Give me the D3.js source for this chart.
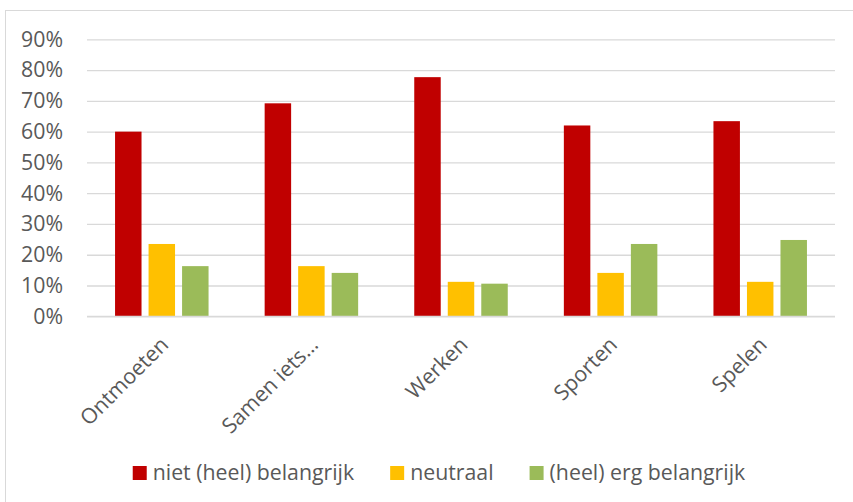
<!DOCTYPE html>
<html>
<head>
<meta charset="utf-8">
<script src="https://cdn.jsdelivr.net/npm/d3@7"></script>
<style>
  body { margin: 0; background: #fff; }
  text { font-family: "Open Sans", sans-serif; fill: #595959; }
</style>
</head>
<body>
<div id="chart"></div>
<script>

const categories = ['Ontmoeten', 'Samen iets\u2026', 'Werken', 'Sporten', 'Spelen']
const seriesNames = ['niet (heel) belangrijk', 'neutraal', '(heel) erg belangrijk']
const seriesColors = ['#C00000', '#FFC000', '#9BBB59']
const notImportant = [0.60, 0.692, 0.777, 0.62, 0.634]
const neutral = [0.235, 0.163, 0.112, 0.141, 0.112]
const important = [0.163, 0.141, 0.106, 0.235, 0.248]
const yTicks = [0, 0.1, 0.2, 0.3, 0.4, 0.5, 0.6, 0.7, 0.8, 0.9]

const width = 853
const height = 502
const plotLeft = 87, plotRight = 835, plotTop = 39.3, plotBottom = 316.3
const fontSize = 21.3

const values = [notImportant, neutral, important]

const svg = d3.select('#chart')
    .append('svg')
    .attr('width', width)
    .attr('height', height)

// frame (cut off at right and bottom like the original)
svg.append('rect')
    .attr('x', 5.5).attr('y', 10.5)
    .attr('width', width + 20).attr('height', height + 20)
    .attr('fill', 'none')
    .attr('stroke', '#d9d9d9')

const xScale = d3.scaleBand()
    .domain(categories)
    .range([plotLeft, plotRight])

const groupWidth = 93.5
const xInner = d3.scaleBand()
    .domain(d3.range(seriesNames.length))
    .range([0, groupWidth])
    .paddingInner(0.21)

const yScale = d3.scaleLinear()
    .domain([0, 0.9])
    .range([plotBottom, plotTop])

// gridlines + y labels
const yAxis = d3.axisLeft(yScale)
    .tickValues(yTicks)
    .tickFormat(d3.format('.0%'))
    .tickSize(-(plotRight - plotLeft))
    .tickPadding(24)

const gy = svg.append('g')
    .attr('transform', 'translate(' + plotLeft + ',0)')
    .call(yAxis)
gy.select('.domain').remove()
gy.selectAll('.tick line').attr('stroke', '#d9d9d9').attr('stroke-width', 1.3)
gy.selectAll('.tick text')
    .attr('font-size', fontSize)
    .attr('fill', '#595959')
    .style('font-family', '"Open Sans", sans-serif')

// bars
categories.forEach((cat, i) => {
    const g = svg.append('g')
        .attr('transform', 'translate(' + (xScale(cat) + (xScale.bandwidth() - groupWidth) / 2) + ',0)')
    g.selectAll('rect')
        .data(values.map(v => v[i]))
        .enter()
        .append('rect')
        .attr('x', (d, j) => xInner(j))
        .attr('y', d => yScale(d))
        .attr('width', xInner.bandwidth())
        .attr('height', d => plotBottom - yScale(d))
        .attr('fill', (d, j) => seriesColors[j])
})

// axis line at 0%
svg.append('line')
    .attr('x1', plotLeft).attr('x2', plotRight)
    .attr('y1', yScale(0)).attr('y2', yScale(0))
    .attr('stroke', '#d9d9d9').attr('stroke-width', 1.3)

// rotated category labels
svg.selectAll('.xlabel')
    .data(categories)
    .enter()
    .append('text')
    .attr('class', 'xlabel')
    .attr('transform', d => 'translate(' + (xScale(d) + xScale.bandwidth() / 2 + 8) + ',346) rotate(-45)')
    .attr('text-anchor', 'end')
    .attr('font-size', fontSize)
    .text(d => d)

// legend
const legend = svg.append('g')
const items = legend.selectAll('g')
    .data(seriesNames)
    .enter()
    .append('g')
items.append('rect')
    .attr('width', 14).attr('height', 14)
    .attr('y', 466)
    .attr('fill', (d, i) => seriesColors[i])
items.append('text')
    .attr('x', 20)
    .attr('y', 480)
    .attr('font-size', fontSize)
    .text(d => d)

let offset = 0
const widths = []
items.each(function () {
    widths.push(20 + d3.select(this).select('text').node().getComputedTextLength())
})
const gap = 36
const total = d3.sum(widths) + gap * (widths.length - 1)
let start = 439 - total / 2
items.attr('transform', (d, i) => {
    const x = start + offset
    offset += widths[i] + gap
    return 'translate(' + x + ',0)'
})

</script>
</body>
</html>
